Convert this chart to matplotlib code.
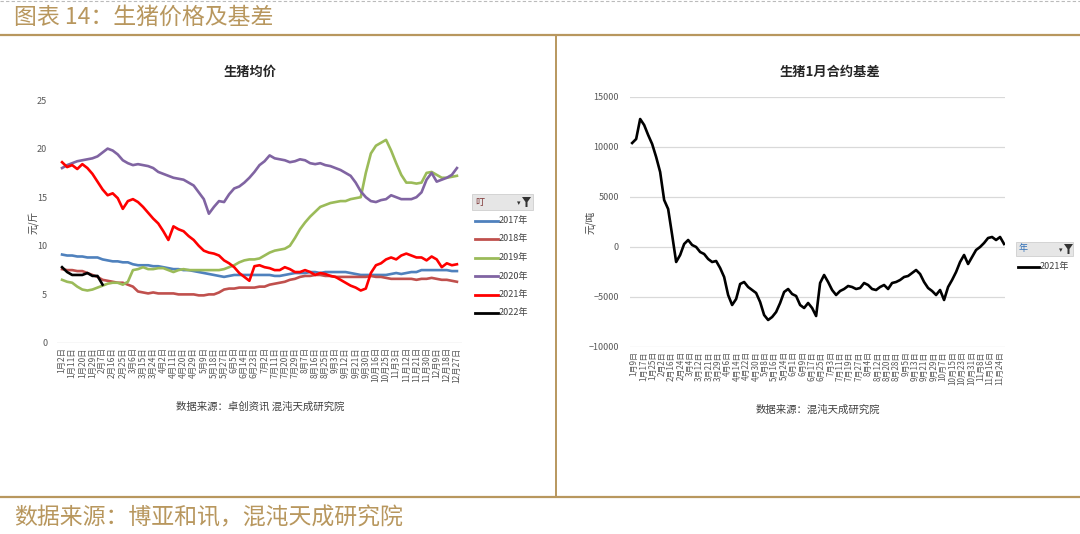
import numpy as np
import matplotlib
matplotlib.use('Agg')
import matplotlib.pyplot as plt
from matplotlib.lines import Line2D
from matplotlib.patches import Rectangle, Polygon

plt.rcParams['font.family'] = ['Noto Sans CJK SC', 'DejaVu Sans']

# ---------------- data ----------------
price_labels = ['1月2日', '1月11日', '1月20日', '1月29日', '2月7日', '2月16日', '2月25日', '3月6日',
                '3月15日', '3月24日', '4月2日', '4月11日', '4月20日', '4月29日', '5月9日', '5月18日',
                '5月27日', '6月5日', '6月14日', '6月23日', '7月2日', '7月11日', '7月20日', '7月29日',
                '8月7日', '8月16日', '8月25日', '9月3日', '9月12日', '9月21日', '9月30日', '10月16日',
                '10月25日', '11月3日', '11月12日', '11月21日', '11月30日', '12月9日', '12月18日', '12月27日']

years = ['2017年', '2018年', '2019年', '2020年', '2021年', '2022年']

# values sampled every half tick-label interval
price_2017 = [9.1, 9.0, 9.0, 8.9, 8.9, 8.8, 8.8, 8.8, 8.6, 8.5, 8.4, 8.4, 8.3, 8.3, 8.1, 8.0,
              8.0, 8.0, 7.9, 7.9, 7.8, 7.7, 7.6, 7.6, 7.5, 7.5, 7.4, 7.3, 7.2, 7.1, 7.0, 6.9,
              6.8, 6.9, 7.0, 7.0, 7.0, 7.0, 7.0, 7.0, 7.0, 7.0, 6.9, 6.9, 7.0, 7.1, 7.2, 7.2,
              7.2, 7.3, 7.3, 7.2, 7.3, 7.3, 7.3, 7.3, 7.3, 7.2, 7.1, 7.0, 7.0, 7.0, 7.0, 7.0,
              7.0, 7.1, 7.2, 7.1, 7.2, 7.3, 7.3, 7.5, 7.5, 7.5, 7.5, 7.5, 7.5, 7.4, 7.4]
price_2018 = [7.6, 7.5, 7.5, 7.4, 7.4, 7.2, 7.0, 6.8, 6.5, 6.4, 6.3, 6.2, 6.2, 6.0, 5.8, 5.3,
              5.2, 5.1, 5.2, 5.1, 5.1, 5.1, 5.1, 5.0, 5.0, 5.0, 5.0, 4.9, 4.9, 5.0, 5.0, 5.2,
              5.5, 5.6, 5.6, 5.7, 5.7, 5.7, 5.7, 5.8, 5.8, 6.0, 6.1, 6.2, 6.3, 6.5, 6.6, 6.8,
              6.9, 6.9, 7.0, 7.0, 6.9, 6.9, 6.8, 6.8, 6.8, 6.8, 6.8, 6.8, 6.8, 6.9, 6.8, 6.8,
              6.7, 6.6, 6.6, 6.6, 6.6, 6.6, 6.5, 6.6, 6.6, 6.7, 6.6, 6.5, 6.5, 6.4, 6.3]
price_2019 = [6.5, 6.3, 6.2, 5.8, 5.5, 5.4, 5.5, 5.7, 5.9, 6.1, 6.2, 6.2, 6.0, 6.3, 7.5, 7.6,
              7.8, 7.6, 7.6, 7.7, 7.7, 7.5, 7.3, 7.5, 7.6, 7.5, 7.5, 7.5, 7.5, 7.5, 7.5, 7.5,
              7.6, 7.8, 8.0, 8.3, 8.5, 8.6, 8.6, 8.7, 9.0, 9.3, 9.5, 9.6, 9.7, 10.0, 10.8, 11.7,
              12.4, 13.0, 13.5, 14.0, 14.2, 14.4, 14.5, 14.6, 14.6, 14.8, 14.9, 15.0, 17.5, 19.5,
              20.3, 20.6, 20.9, 19.8, 18.5, 17.3, 16.5, 16.5, 16.4, 16.5, 17.5, 17.6, 17.3, 17.0,
              17.0, 17.1, 17.2]
price_2020 = [18.0, 18.3, 18.5, 18.7, 18.8, 18.9, 19.0, 19.2, 19.6, 20.0, 19.8, 19.4, 18.8, 18.5,
              18.3, 18.4, 18.3, 18.2, 18.0, 17.6, 17.4, 17.2, 17.0, 16.9, 16.8, 16.5, 16.2, 15.5,
              14.8, 13.3, 14.0, 14.6, 14.5, 15.3, 15.9, 16.1, 16.5, 17.0, 17.6, 18.3, 18.7, 19.3,
              19.0, 18.9, 18.8, 18.6, 18.7, 18.9, 18.8, 18.5, 18.4, 18.5, 18.3, 18.2, 18.0, 17.8,
              17.5, 17.2, 16.5, 15.6, 15.0, 14.6, 14.5, 14.7, 14.8, 15.2, 15.0, 14.8, 14.8, 14.8,
              15.0, 15.5, 16.8, 17.5, 16.6, 16.8, 17.0, 17.3, 18.0]
price_2021 = [18.6, 18.1, 18.3, 17.9, 18.4, 18.0, 17.4, 16.6, 15.8, 15.2, 15.4, 14.9, 13.8, 14.6,
              14.8, 14.5, 14.0, 13.4, 12.8, 12.3, 11.5, 10.6, 12.0, 11.7, 11.5, 11.0, 10.6, 10.0,
              9.5, 9.3, 9.2, 9.0, 8.5, 8.2, 7.8, 7.2, 6.8, 6.4, 7.9, 8.0, 7.8, 7.7, 7.5, 7.5,
              7.8, 7.6, 7.3, 7.3, 7.5, 7.3, 7.0, 7.2, 7.1, 6.9, 6.8, 6.5, 6.2, 5.9, 5.7, 5.4,
              5.6, 7.2, 8.0, 8.2, 8.6, 8.8, 8.6, 9.0, 9.2, 9.0, 8.8, 8.8, 8.5, 8.9, 8.6, 7.8,
              8.2, 8.0, 8.1]
price_2022 = [7.8, 7.3, 7.0, 7.0, 7.0, 7.2, 6.9, 6.9, 6.0]

price_series = [price_2017, price_2018, price_2019, price_2020, price_2021, price_2022]
price_colors = ['#4F81BD', '#C0504D', '#9BBB59', '#8064A2', '#FF0000', '#000000']

basis_labels = ['1月9日', '1月17日', '1月25日', '2月2日', '2月16日', '2月24日', '3月4日', '3月12日',
                '3月21日', '3月29日', '4月6日', '4月14日', '4月22日', '4月30日', '5月8日', '5月16日',
                '5月24日', '6月1日', '6月9日', '6月17日', '6月25日', '7月3日', '7月11日', '7月19日',
                '7月27日', '8月4日', '8月12日', '8月20日', '8月28日', '9月5日', '9月13日', '9月21日',
                '9月29日', '10月7日', '10月15日', '10月23日', '10月31日', '11月8日', '11月16日', '11月24日']

basis_2021 = [10400, 10800, 12800, 12200, 11200, 10300, 9000, 7500, 4700, 3800, 1200, -1500,
              -800, 300, 700, 200, 0, -500, -700, -1200, -1500, -1400, -2100, -3000,
              -4800, -5800, -5200, -3700, -3500, -4000, -4300, -4600, -5500, -6800, -7300, -7000,
              -6500, -5600, -4500, -4200, -4700, -4900, -5800, -6100, -5600, -6100, -6900, -3600,
              -2800, -3500, -4300, -4800, -4400, -4200, -3900, -4000, -4200, -4100, -3600, -3800,
              -4200, -4300, -4000, -3800, -4200, -3600, -3500, -3300, -3000, -2900, -2600, -2300,
              -2700, -3500, -4100, -4400, -4800, -4300, -5300, -4000, -3300, -2500, -1500, -800,
              -1700, -1000, -300, 0, 400, 900, 1000, 700, 1000, 300]

# ---------------- figure ----------------
W, H = 1080, 534
fig = plt.figure(figsize=(W / 100, H / 100), dpi=100)
fig.patch.set_facecolor('white')


def fx(p):
    return p / W


def fy(p):
    return 1 - p / H


gold = '#B8975E'
txt_gray = '#595959'

# header / footer decorations
fig.add_artist(Line2D([0, 1], [fy(1), fy(1)], color='#BBBBBB', lw=0.8, ls=(0, (3, 2))))
fig.text(fx(14), fy(17), '图表 14：生猪价格及基差', color=gold, fontsize=16.5, va='center', ha='left')
fig.add_artist(Line2D([0, 1], [fy(35), fy(35)], color=gold, lw=1.6))
fig.add_artist(Line2D([fx(556), fx(556)], [fy(35), fy(497)], color=gold, lw=1.4))
fig.add_artist(Line2D([0, 1], [fy(497), fy(497)], color=gold, lw=1.6))
fig.text(fx(14), fy(518), '数据来源：博亚和讯，混沌天成研究院', color=gold, fontsize=16.5,
         va='center', ha='left')

# ---------------- left chart ----------------
ax1 = fig.add_axes([fx(57), fy(343), (462 - 57) / W, (343 - 100) / H])
for s, c in zip(price_series, price_colors):
    xs = np.arange(len(s)) * 0.5
    ax1.plot(xs, s, color=c, lw=1.9, solid_joinstyle='round')
ax1.set_xlim(-0.5, 39.5)
ax1.set_ylim(0, 25)
ax1.set_yticks(np.arange(0, 26, 5))
ax1.set_xticks(np.arange(len(price_labels)))
ax1.set_xticklabels(price_labels, rotation=90, fontsize=6, color=txt_gray)
ax1.tick_params(axis='y', length=0, pad=7, labelsize=6.5, labelcolor=txt_gray)
ax1.tick_params(axis='x', length=0, pad=3)
for sp in ax1.spines.values():
    sp.set_visible(False)
ax1.axhline(0, color='#D9D9D9', lw=1.0, zorder=0)

fig.text(fx(250), fy(72), '生猪均价', fontsize=9.5, fontweight='bold', color='#262626',
         ha='center', va='center')
fig.text(fx(33), fy(222), '元/斤', fontsize=7, rotation=90, color='#404040', ha='center', va='center')
fig.text(fx(260), fy(407), '数据来源：卓创资讯 混沌天成研究院', fontsize=7.5, color='#404040',
         ha='center', va='center')

# legend (pivot-chart style)
fig.add_artist(Rectangle((fx(472), fy(210)), (533 - 472) / W, (210 - 194) / H,
                         facecolor='#E6E6E6', edgecolor='#CFCFCF', lw=0.6))
fig.text(fx(475), fy(202), '叮', fontsize=6.5, color='#7A2E2E', ha='left', va='center')
fig.text(fx(519), fy(203), '▾', fontsize=5, color='#333333', ha='center', va='center')
fig.add_artist(Polygon([(fx(522), fy(197)), (fx(531), fy(197)), (fx(527.5), fy(202)),
                        (fx(527.5), fy(207)), (fx(525.5), fy(207)), (fx(525.5), fy(202))],
                       closed=True, facecolor='#333333', edgecolor='none'))
rows = [220.5, 239, 257.5, 276, 294.5, 313]
for yr, c, r in zip(years, price_colors, rows):
    fig.add_artist(Line2D([fx(475), fx(498)], [fy(r), fy(r)], color=c, lw=2.0))
    fig.text(fx(499), fy(r), yr, fontsize=6.5, color='#404040', ha='left', va='center')

# ---------------- right chart ----------------
ax2 = fig.add_axes([fx(630), fy(347), (1005 - 630) / W, (347 - 97) / H])
bx = np.linspace(-0.2, 39.5, len(basis_2021))
ax2.plot(bx, basis_2021, color='black', lw=1.9, solid_joinstyle='round')
ax2.set_xlim(-0.43, 39.6)
ax2.set_ylim(-10000, 15000)
ax2.set_yticks(np.arange(-10000, 15001, 5000))
ax2.set_xticks(np.arange(len(basis_labels)))
ax2.set_xticklabels(basis_labels, rotation=90, fontsize=5.8, color=txt_gray)
ax2.tick_params(axis='y', length=0, pad=8, labelsize=6.5, labelcolor=txt_gray)
ax2.tick_params(axis='x', length=0, pad=3)
ax2.grid(axis='y', color='#D9D9D9', lw=0.9)
ax2.set_axisbelow(True)
for sp in ax2.spines.values():
    sp.set_visible(False)

fig.text(fx(830), fy(72), '生猪1月合约基差', fontsize=9.5, fontweight='bold', color='#262626',
         ha='center', va='center')
fig.text(fx(590), fy(222), '元/吨', fontsize=7, rotation=90, color='#404040', ha='center', va='center')
fig.text(fx(818), fy(410), '数据来源：混沌天成研究院', fontsize=7.5, color='#404040',
         ha='center', va='center')

fig.add_artist(Rectangle((fx(1016), fy(256)), (1073 - 1016) / W, (256 - 242) / H,
                         facecolor='#E6E6E6', edgecolor='#CFCFCF', lw=0.6))
fig.text(fx(1019), fy(249), '年', fontsize=6.5, color='#2F6FB7', ha='left', va='center')
fig.text(fx(1061), fy(250), '▾', fontsize=5, color='#333333', ha='center', va='center')
fig.add_artist(Polygon([(fx(1064), fy(244)), (fx(1073), fy(244)), (fx(1069.5), fy(249)),
                        (fx(1069.5), fy(254)), (fx(1067.5), fy(254)), (fx(1067.5), fy(249))],
                       closed=True, facecolor='#333333', edgecolor='none'))
fig.add_artist(Line2D([fx(1018), fx(1039)], [fy(267), fy(267)], color='black', lw=2.0))
fig.text(fx(1040), fy(267), '2021年', fontsize=6.5, color='#404040', ha='left', va='center')

fig.savefig('out.png', dpi=100, facecolor='white')
